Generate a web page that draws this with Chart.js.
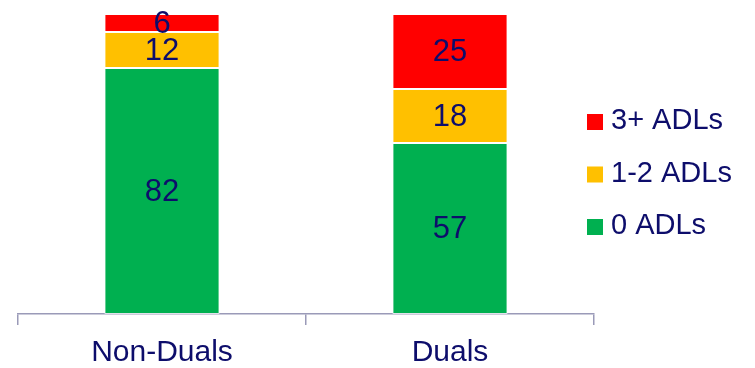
<!DOCTYPE html>
<html>
<head>
<meta charset="utf-8">
<script src="https://cdn.jsdelivr.net/npm/chart.js@4"></script>
<style>
  html, body { margin: 0; padding: 0; background: #fff; }
  #wrap { width: 755px; height: 368px; position: relative; }
</style>
</head>
<body>
<div id="wrap"><canvas id="chart"></canvas></div>
<script>
// データ（%）
const groups = ["Non-Duals", "Duals"];
const seriesNames = ["0 ADLs", "1-2 ADLs", "3+ ADLs"];
const zeroAdl = [82, 57];
const oneTwoAdl = [12, 18];
const threePlusAdl = [6, 25];
const seriesColors = ["#00b050", "#ffc000", "#ff0000"];

const textColor = "#0d0d6b";
const fontFamily = "'Liberation Sans', Arial, sans-serif";

// 各セグメントの中央に値を描く
const valueLabels = {
  id: "valueLabels",
  afterDatasetsDraw(chart) {
    const { ctx } = chart;
    ctx.save();
    ctx.fillStyle = textColor;
    ctx.font = `31px ${fontFamily}`;
    ctx.textAlign = "center";
    ctx.textBaseline = "middle";
    chart.data.datasets.forEach((ds, i) => {
      chart.getDatasetMeta(i).data.forEach((bar, j) => {
        const y = (bar.y + bar.base) / 2;
        ctx.fillText(String(ds.data[j]), bar.x, y + 1);
      });
    });
    ctx.restore();
  },
};

// 右側の凡例（上から逆順）
const sideLegend = {
  id: "sideLegend",
  afterDraw(chart) {
    const { ctx } = chart;
    const list = chart.data.datasets.slice().reverse();
    ctx.save();
    ctx.font = `29px ${fontFamily}`;
    ctx.textBaseline = "alphabetic";
    ctx.textAlign = "left";
    list.forEach((ds, k) => {
      const base = 129 + k * 52.5;
      ctx.fillStyle = ds.backgroundColor;
      ctx.fillRect(587, base - 15, 16, 16);
      ctx.fillStyle = textColor;
      ctx.fillText(ds.label, 611, base);
    });
    ctx.restore();
  },
};

const seriesData = [zeroAdl, oneTwoAdl, threePlusAdl];

new Chart(document.getElementById("chart"), {
  type: "bar",
  data: {
    labels: groups,
    datasets: seriesNames.map((name, i) => ({
      label: name,
      data: seriesData[i],
      backgroundColor: seriesColors[i],
      borderColor: "rgba(255,255,255,0.7)",
      borderWidth: 1,
      borderSkipped: false,
      categoryPercentage: 1,
      barPercentage: 0.4,
    })),
  },
  options: {
    responsive: true,
    maintainAspectRatio: false,
    animation: false,
    layout: { padding: { left: 18, right: 161, top: 14, bottom: 0 } },
    plugins: {
      legend: { display: false },
      tooltip: { enabled: false },
    },
    scales: {
      x: {
        stacked: true,
        offset: true,
        afterFit(scale) { scale.height = 54; },
        grid: {
          offset: true,
          drawOnChartArea: false,
          drawTicks: true,
          tickLength: 11,
          color: "#9a9ab8",
          lineWidth: 1.5,
        },
        border: { display: true, color: "#9a9ab8", width: 1.5 },
        ticks: {
          color: textColor,
          padding: 10,
          font: { family: fontFamily, size: 30 },
        },
      },
      y: {
        stacked: true,
        display: false,
        min: 0,
        max: 100,
      },
    },
  },
  plugins: [valueLabels, sideLegend],
});
</script>
</body>
</html>
